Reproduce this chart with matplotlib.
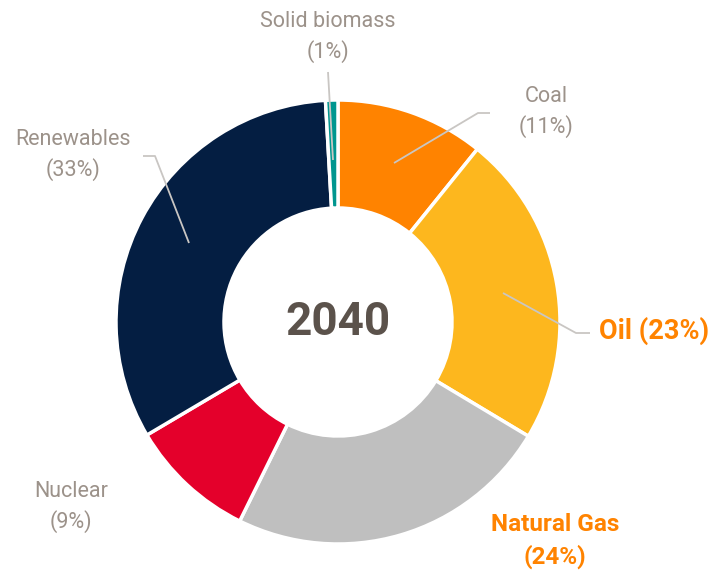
import matplotlib
matplotlib.use("Agg")
import matplotlib.pyplot as plt

categories = ["Coal", "Oil", "Natural Gas", "Nuclear", "Renewables", "Solid biomass"]
values = [10.8, 22.8, 23.7, 9.2, 32.6, 0.9]
pct_labels = ["11%", "23%", "24%", "9%", "33%", "1%"]
colors = ["#ff8300", "#fdb71e", "#bfbfbf", "#e4002b", "#041e42", "#00968f"]
center_label = "2040"

W, H = 725, 574
fig = plt.figure(figsize=(W / 100, H / 100), dpi=100)
ax = fig.add_axes([0, 0, 1, 1])

def Y(y):
    return H - y

cx, cy = 338, Y(322)
R = 222
ax.pie(values, colors=colors, startangle=90, counterclock=False,
       center=(cx, cy), radius=R, frame=True,
       wedgeprops=dict(width=108, edgecolor="white", linewidth=2.5))
ax.set_xlim(0, W)
ax.set_ylim(0, H)
ax.set_aspect("auto")
ax.axis("off")

font = "Roboto"
grey = "#9c928a"
orange = "#ff8300"
line_c = "#c9c6c3"

ax.text(cx, cy, center_label, ha="center", va="center", fontsize=33,
        fontweight="bold", color="#5b524b", family=font)

# leader lines (pixel coords)
leaders = {
    "Coal": [(394, 163), (478, 113), (490, 113)],
    "Oil": [(503, 293), (576, 333), (590, 333)],
    "Renewables": [(189, 243), (155, 156), (143, 156)],
    "Solid biomass": [(333, 160), (328, 72)],
}
for pts in leaders.values():
    xs = [p[0] for p in pts]
    ys = [Y(p[1]) for p in pts]
    ax.plot(xs, ys, color=line_c, lw=1.3, solid_capstyle="butt")

def lab(i, x, y, ha="center", bold=False, two_lines=True, size=15.5):
    txt = f"{categories[i]}\n({pct_labels[i]})" if two_lines else f"{categories[i]} ({pct_labels[i]})"
    ax.text(x, Y(y), txt, ha=ha, va="center", fontsize=size,
            color=orange if bold else grey,
            fontweight="bold" if bold else "normal",
            family=font, linespacing=1.4)

lab(0, 546, 112)
lab(1, 599, 331, ha="left", bold=True, two_lines=False, size=19.5)
lab(2, 555, 541, bold=True, size=17.5)
lab(3, 71, 507)
lab(4, 73, 155)
lab(5, 328, 37)

fig.savefig("out.png", dpi=100)
